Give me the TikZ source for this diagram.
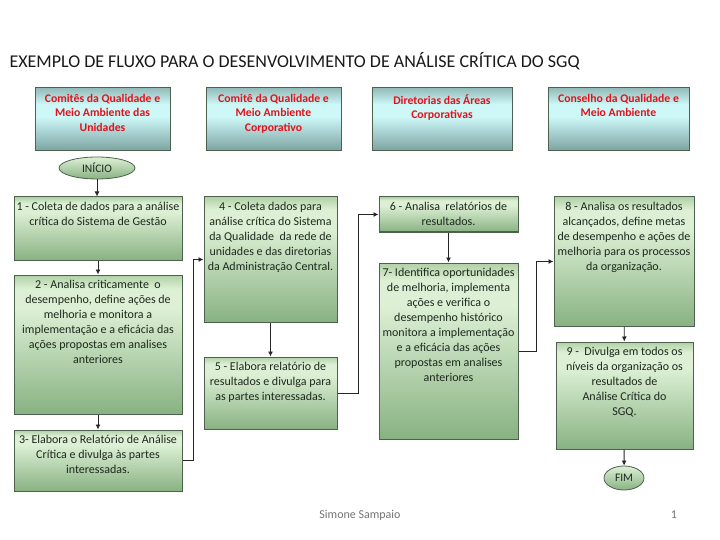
\documentclass[tikz,border=0pt]{standalone}
\usepackage{fontspec}
\setmainfont{Carlito}
\usetikzlibrary{arrows.meta,shapes.geometric}
\definecolor{gdark}{HTML}{88B282}
\definecolor{glight}{HTML}{DDF0D5}
\definecolor{gtop}{HTML}{B0D1A6}
\definecolor{tdark}{HTML}{7AA2A1}
\definecolor{tlight}{HTML}{CDF8F7}
\definecolor{ttop}{HTML}{92BBBA}
\definecolor{edge}{HTML}{4E604E}
\definecolor{ink}{HTML}{1E281E}
\definecolor{alert}{HTML}{E2121C}
\pgfdeclareverticalshading{greenbox}{100bp}{color(0bp)=(gdark); color(25bp)=(gdark);
  color(63bp)=(glight); color(70bp)=(glight); color(75bp)=(gtop); color(100bp)=(gtop)}
\pgfdeclareverticalshading{tealbox}{100bp}{color(0bp)=(tdark); color(25bp)=(tdark);
  color(52bp)=(tlight); color(62bp)=(tlight); color(75bp)=(ttop); color(100bp)=(ttop)}
\tikzset{
  stepbox/.style={draw=edge,line width=1pt,shading=greenbox,inner sep=0pt},
  steptext/.style={font=\fontsize{12}{15}\selectfont,text=ink,align=center,
    inner xsep=3pt,inner ysep=5pt,anchor=north},
  areabox/.style={draw=edge,line width=1pt,shading=tealbox,inner sep=0pt},
  areatext/.style={font=\fontsize{11.7}{14.5}\selectfont\bfseries,text=alert,align=center,
    inner xsep=3pt,inner ysep=6.5pt,anchor=north},
  terminal/.style={ellipse,draw=edge,line width=0.8pt,top color=glight,bottom color=gdark,
    font=\fontsize{11.5}{13}\selectfont,text=ink,inner sep=0pt},
  flow/.style={draw=black!85,line width=0.9pt,-{Latex[length=5pt,width=5pt]}}
}

\begin{document}
\begin{tikzpicture}[x=1pt,y=-1pt]
  \useasboundingbox (0,0) rectangle (720,540);

  \node[anchor=west,font=\fontsize{18}{22}\selectfont,text=black!90] (title) at (6,61)
    {EXEMPLO DE FLUXO PARA O DESENVOLVIMENTO DE ANÁLISE CRÍTICA DO SGQ};

  % areas
  \node[areabox,minimum width=135,minimum height=63,
    label={[areatext]north:{Comitês da Qualidade e\\Meio Ambiente das\\Unidades}}] (h1) at (102.5,119.5) {};
  \node[areabox,minimum width=135,minimum height=63,
    label={[areatext]north:{Comitê da Qualidade e\\Meio Ambiente\\Corporativo}}] (h2) at (273.5,119.5) {};
  \node[areabox,minimum width=140,minimum height=63,
    label={[areatext]north:{Diretorias das Áreas\\Corporativas}}] (h3) at (442,119.5) {};
  \node[areabox,minimum width=141,minimum height=63,
    label={[areatext]north:{Conselho da Qualidade e\\Meio Ambiente}}] (h4) at (618.5,119.5) {};

  \node[terminal,minimum width=76,minimum height=22] (inicio) at (97,168) {INÍCIO};

  % steps
  \node[stepbox,minimum width=168,minimum height=63,
    label={[steptext]north:{1 - Coleta de dados para a análise\\crítica do Sistema de Gestão}}] (b1) at (98,228.5) {};
  \node[stepbox,minimum width=168,minimum height=139,
    label={[steptext]north:{2 - Analisa criticamente~ o\\desempenho, define ações de\\melhoria e monitora a\\implementação e a eficácia das\\ações propostas em analises\\anteriores}}] (b2) at (98,344.5) {};
  \node[stepbox,minimum width=168,minimum height=61,
    label={[steptext]north:{3- Elabora o Relatório de Análise\\Crítica e divulga às partes\\interessadas.}}] (b3) at (98,460.5) {};
  \node[stepbox,minimum width=133,minimum height=125,
    label={[steptext]north:{4 - Coleta dados para\\análise crítica do Sistema\\da Qualidade~ da rede de\\unidades e das diretorias\\da Administração Central.}}] (b4) at (270.5,259.5) {};
  \node[stepbox,minimum width=133,minimum height=72,
    label={[steptext]north:{5 - Elabora relatório de\\resultados e divulga para\\as partes interessadas.}}] (b5) at (270.5,393) {};
  \node[stepbox,minimum width=139,minimum height=35,
    label={[steptext]north:{6 - Analisa~ relatórios de\\resultados.}}] (b6) at (448.5,214.5) {};
  \node[stepbox,minimum width=139,minimum height=176,
    label={[steptext]north:{7- Identifica oportunidades\\de melhoria, implementa\\ações e verifica o\\desempenho histórico\\monitora a implementação\\e a eficácia das ações\\propostas em analises\\anteriores}}] (b7) at (448.5,351) {};
  \node[stepbox,minimum width=140,minimum height=129,
    label={[steptext]north:{8 - Analisa os resultados\\alcançados, define metas\\de desempenho e ações de\\melhoria para os processos\\da organização.}}] (b8) at (624,261.5) {};
  \node[stepbox,minimum width=137,minimum height=107,
    label={[steptext]north:{9 -~ Divulga em todos os\\níveis da organização os\\resultados de\\Análise Crítica do\\SGQ.}}] (b9) at (624.5,395.5) {};

  \node[terminal,minimum width=40,minimum height=24] (fim) at (624,478) {FIM};

  % connectors
  \draw[flow] (inicio) -- (inicio |- b1.north);
  \draw[flow] (b1) -- (b2);
  \draw[flow] (b2) -- (b3);
  \draw[flow] (b3.east) -- ++(11,0) |- (b4.west);
  \draw[flow] (b4) -- (b5);
  \draw[flow] (b5.east) -- ++(21,0) |- (b6.west);
  \draw[flow] (b6) -- (b7);
  \draw[flow] (b7.east) -- ++(18,0) |- (b8.west);
  \draw[flow] (b8) -- (b9);
  \draw[flow] (b9) -- (fim);

  \node[font=\fontsize{12}{14}\selectfont,text=black!55] (autor) at (360,515) {Simone Sampaio};
  \node[font=\fontsize{12}{14}\selectfont,text=black!55] (pagina) at (674,515) {1};
\end{tikzpicture}
\end{document}
